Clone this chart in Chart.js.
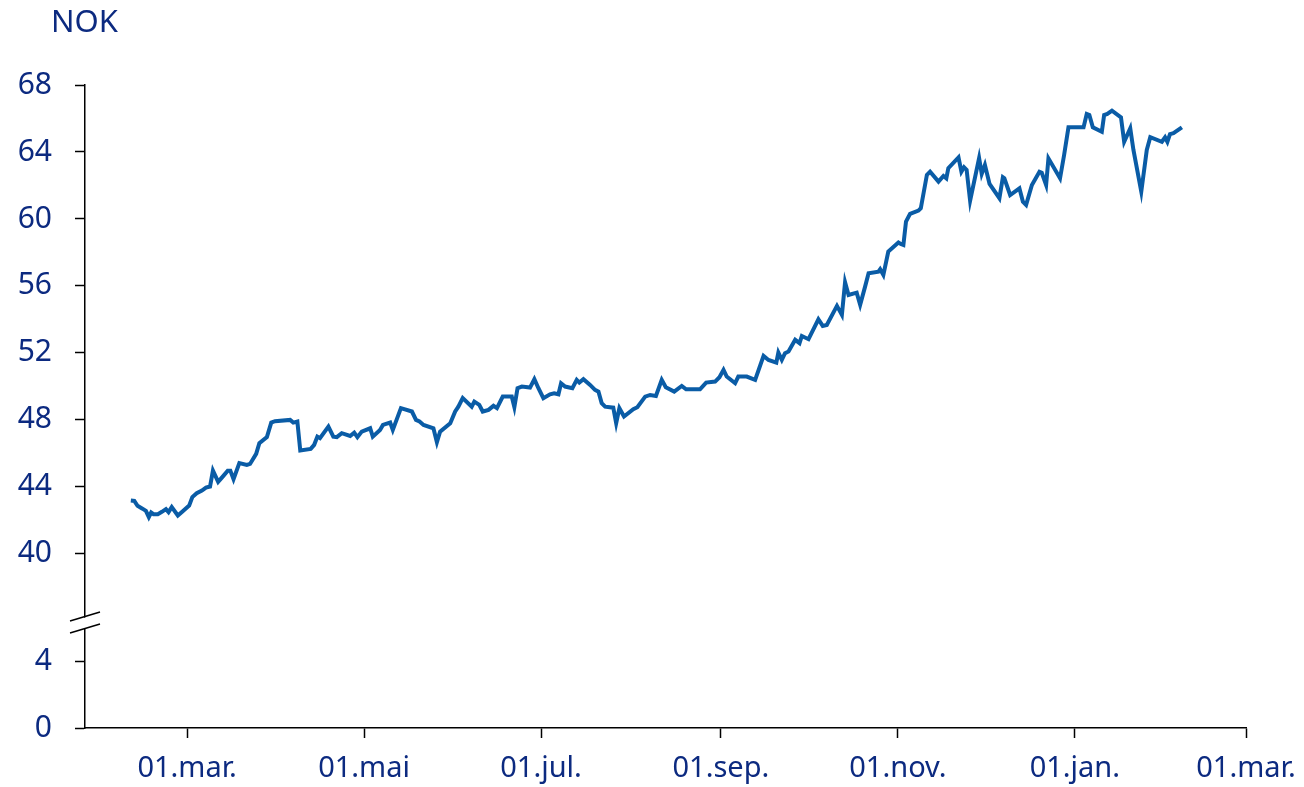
<!DOCTYPE html>
<html>
<head>
<meta charset="utf-8">
<script src="https://cdn.jsdelivr.net/npm/chart.js@4/dist/chart.umd.min.js"></script>
<style>
  html, body { margin: 0; padding: 0; background: #fff; }
  #wrap { width: 1304px; height: 787px; position: relative; }
</style>
</head>
<body>
<div id="wrap"><canvas id="priceChart"></canvas></div>
<script>
// days counted from 01.mar. (negative = February of the first year)
const days = [
  -19.4, -18.2, -17.1, -15.4, -14.2, -13.2, -12.4, -11.6, -10.1, -8.7, -7.3, -6.4, -5.3, -3.2, -1.5,
  0.7, 1.8, 3.3, 5.1, 6.5, 7.9, 8.9, 10.7, 12.5, 14.0, 14.9, 16.0, 18.0, 20.6, 21.7, 23.8, 24.9,
  27.5, 29.0, 30.3, 35.5, 36.6, 38.0, 39.0, 42.6, 43.8, 44.9, 45.8, 48.7, 50.4, 51.6, 53.3, 56.2,
  57.6, 58.7, 60.2, 63.1, 64.0, 66.5, 67.5, 70.0, 70.9, 73.7, 77.5, 78.9, 80.1, 81.5, 84.9, 86.1,
  87.2, 90.7, 92.4, 93.5, 95.0, 98.1, 99.0, 100.7, 101.9, 103.9, 105.6, 106.8, 108.8, 111.9, 112.8,
  113.9, 115.4, 118.2, 119.7, 121.1, 122.8, 125.1, 126.5, 128.0, 128.9, 130.3, 132.8, 134.3, 135.2,
  136.6, 138.9, 140.6, 141.8, 142.9, 144.1, 146.9, 147.9, 149.0, 150.6, 153.8, 155.2, 157.9, 159.6,
  161.6, 163.6, 165.0, 167.9, 170.5, 172.0, 176.8, 178.9, 182.0, 183.5, 184.9, 186.0, 188.9, 190.0,
  192.9, 195.8, 198.7, 200.4, 203.1, 203.8, 205.0, 206.1, 207.3, 209.6, 211.1, 211.9, 214.2, 217.6,
  219.1, 220.5, 224.0, 225.7, 226.8, 228.0, 230.8, 232.0, 233.7, 234.9, 238.3, 238.9, 240.0, 241.7,
  245.2, 246.0, 246.9, 247.8, 249.2, 252.1, 252.9, 255.0, 256.1, 259.0, 260.7, 261.7, 262.4, 265.9,
  266.9, 267.8, 268.7, 269.9, 273.0, 273.9, 275.0, 276.6, 280.0, 281.2, 281.7, 283.7, 286.9, 288.1,
  289.2, 291.2, 293.8, 294.6, 296.1, 296.9, 300.9, 302.3, 303.8, 309.0, 310.1, 311.0, 312.2, 315.3,
  316.1, 317.2, 318.8, 321.9, 323.0, 325.1, 326.2, 328.9, 330.8, 332.0, 336.0, 337.1, 337.9, 338.8,
  340.0, 342.9
];
const prices = [
  43.18, 43.16, 42.87, 42.70, 42.57, 42.19, 42.47, 42.37, 42.37, 42.51, 42.67, 42.49, 42.79, 42.29, 42.55,
  42.88, 43.39, 43.62, 43.78, 43.96, 44.02, 44.97, 44.30, 44.66, 44.97, 44.97, 44.46, 45.42, 45.31, 45.37, 45.97, 46.61,
  46.97, 47.84, 47.92, 48.00, 47.84, 47.90, 46.17, 46.27, 46.51, 47.00, 46.91, 47.60, 47.00, 46.97, 47.21, 47.04,
  47.24, 46.97, 47.30, 47.50, 47.00, 47.40, 47.70, 47.84, 47.40, 48.70, 48.50, 48.00, 47.90, 47.70, 47.50, 46.67,
  47.30, 47.80, 48.50, 48.79, 49.30, 48.79, 49.09, 48.90, 48.50, 48.60, 48.84, 48.70, 49.39, 49.39, 48.76,
  49.89, 49.99, 49.93, 50.43, 49.89, 49.30, 49.53, 49.59, 49.53, 50.19, 49.99, 49.89, 50.39, 50.23,
  50.43, 50.09, 49.79, 49.69, 49.00, 48.79, 48.73, 47.80, 48.70, 48.20, 48.64, 48.76, 49.39, 49.49,
  49.43, 50.39, 49.95, 49.69, 50.03, 49.83, 49.83, 50.23, 50.29, 50.55, 50.99, 50.59, 50.19, 50.59,
  50.59, 50.39, 51.82, 51.58, 51.42, 52.02, 51.58, 51.98, 52.08, 52.78, 52.58, 53.01, 52.82, 54.01,
  53.61, 53.67, 54.81, 54.27, 56.22, 55.46, 55.60, 54.87, 55.96, 56.76, 56.85, 57.00, 56.66, 58.05,
  58.59, 58.51, 58.45, 59.84, 60.30, 60.50, 60.64, 62.63, 62.82, 62.23, 62.57, 62.43, 63.03, 63.68,
  62.82, 63.09, 62.93, 61.09, 63.64, 62.69, 63.22, 62.09, 61.24, 62.49, 62.43, 61.43, 61.83, 61.03,
  60.84, 62.03, 62.82, 62.76, 62.03, 63.62, 62.43, 63.82, 65.47, 65.47, 66.27, 66.21, 65.47, 65.21,
  66.21, 66.27, 66.47, 66.07, 64.61, 65.41, 64.12, 61.63, 64.12, 64.88, 64.61, 64.88, 64.61, 65.07,
  65.12, 65.47
];

const xTickDays = [0, 61, 122, 184, 245, 306, 365];
const xTickLabels = ['01.mar.', '01.mai', '01.jul.', '01.sep.', '01.nov.', '01.jan.', '01.mar.'];
const yTickValues = [0, 4, 40, 44, 48, 52, 56, 60, 64, 68];

// broken axis: values below the break are shifted up
const BREAK_SHIFT = 29.6;
const BREAK_AT = 35.9;
const toAxis = v => (v <= 4 ? v + BREAK_SHIFT : v);

const textColor = '#0c2a80';
const lineColor = '#0a5ca6';

const points = days.map((d, i) => ({ x: d, y: toAxis(prices[i]) }));

const extras = {
  id: 'extras',
  afterDraw(chart) {
    const ctx = chart.ctx;
    const ys = chart.scales.y;
    const x0 = ys.right;
    const yc = ys.getPixelForValue(BREAK_AT);
    ctx.save();
    // gap in axis
    ctx.fillStyle = '#fff';
    ctx.beginPath();
    ctx.moveTo(x0 - 4, yc - 4);
    ctx.lineTo(x0 + 4, yc - 6);
    ctx.lineTo(x0 + 4, yc + 5);
    ctx.lineTo(x0 - 4, yc + 7);
    ctx.closePath();
    ctx.fill();
    ctx.strokeStyle = '#000';
    ctx.lineWidth = 1.5;
    [-6, 6].forEach(off => {
      ctx.beginPath();
      ctx.moveTo(x0 - 15, yc + off + 4.5);
      ctx.lineTo(x0 + 15, yc + off - 4.5);
      ctx.stroke();
    });
    // unit label
    ctx.fillStyle = textColor;
    ctx.font = '31px "Noto Sans"';
    ctx.textBaseline = 'alphabetic';
    ctx.textAlign = 'left';
    ctx.fillText('NOK', 51, 32);
    ctx.restore();
  }
};

new Chart(document.getElementById('priceChart'), {
  type: 'line',
  data: {
    datasets: [{
      data: points,
      borderColor: lineColor,
      borderWidth: 4,
      pointRadius: 0,
      tension: 0,
      fill: false
    }]
  },
  options: {
    responsive: true,
    maintainAspectRatio: false,
    animation: false,
    layout: { padding: { top: 85, right: 58, left: 0, bottom: 0 } },
    plugins: { legend: { display: false }, tooltip: { enabled: false } },
    scales: {
      x: {
        type: 'linear',
        min: -35.2,
        max: 365,
        afterBuildTicks: s => { s.ticks = xTickDays.map(v => ({ value: v })); },
        afterFit: s => { s.height = 59; s.paddingRight = 0; s.paddingLeft = 0; },
        ticks: {
          autoSkip: false,
          maxRotation: 0,
          padding: 13,
          color: textColor,
          font: { family: 'Noto Sans', size: 29 },
          callback: (v, i) => xTickLabels[i]
        },
        grid: { drawOnChartArea: false, drawTicks: true, tickLength: 10, tickColor: '#000', tickWidth: 1.5 },
        border: { color: '#000', width: 1.5 }
      },
      y: {
        min: BREAK_SHIFT,
        max: 68,
        afterBuildTicks: s => { s.ticks = yTickValues.map(v => ({ value: toAxis(v) })); },
        afterFit: s => { s.width = 85; },
        ticks: {
          autoSkip: false,
          padding: 23,
          color: textColor,
          font: { family: 'Noto Sans', size: 30 },
          callback: (v, i) => String(yTickValues[i])
        },
        grid: { drawOnChartArea: false, drawTicks: true, tickLength: 10, tickColor: '#000', tickWidth: 1.5 },
        border: { color: '#000', width: 1.5 }
      }
    }
  },
  plugins: [extras]
});
</script>
</body>
</html>
